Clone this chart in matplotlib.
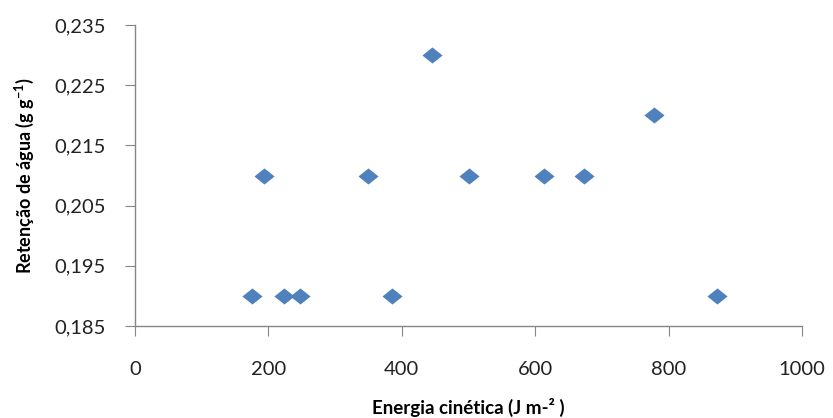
import matplotlib.pyplot as plt
from matplotlib.path import Path
from matplotlib.ticker import FuncFormatter

energia = [175, 193, 223, 248, 350, 385, 445, 500, 613, 673, 778, 873]
retencao = [0.19, 0.21, 0.19, 0.19, 0.21, 0.19, 0.23, 0.21, 0.21, 0.21, 0.22, 0.19]

plt.rcParams['font.family'] = ['Lato', 'DejaVu Sans']

cor = '#4F81BD'
cinza = '#868686'
losango = Path([(-1, 0), (0, 0.8), (1, 0), (0, -0.8), (-1, 0)],
               [Path.MOVETO, Path.LINETO, Path.LINETO, Path.LINETO, Path.CLOSEPOLY])

fig = plt.figure(figsize=(8.33, 4.18), dpi=100)
ax = fig.add_axes([0.162, 0.22, 0.801, 0.72])

ax.plot(energia, retencao, linestyle='none', marker=losango,
        markersize=14.5, color=cor, markeredgewidth=0)

ax.set_xlim(0, 1000)
ax.set_ylim(0.185, 0.235)
ax.set_xticks([0, 200, 400, 600, 800, 1000])
ax.set_yticks([0.185, 0.195, 0.205, 0.215, 0.225, 0.235])
ax.yaxis.set_major_formatter(FuncFormatter(lambda v, p: ('%.3f' % v).replace('.', ',')))

for s in ['top', 'right']:
    ax.spines[s].set_visible(False)
for s in ['left', 'bottom']:
    ax.spines[s].set_color(cinza)
    ax.spines[s].set_linewidth(1)
ax.tick_params(direction='out', length=7, color=cinza, labelsize=14.5,
               labelcolor='#222222', pad=14)
ax.tick_params(axis='x', pad=18)

ax.set_xlabel('Energia cinética (J m-² )', fontsize=13.5, fontweight='bold')
ax.set_ylabel(r'Retenção de água (g g$^{\mathregular{-1}}$)', fontsize=13,
              fontweight='bold')
ax.xaxis.set_label_coords(0.5, -0.24)
ax.yaxis.set_label_coords(-0.165, 0.5)
ax.xaxis.label.set_va('top')
ax.yaxis.label.set_va('center')

fig.savefig('out.png', dpi=100)
